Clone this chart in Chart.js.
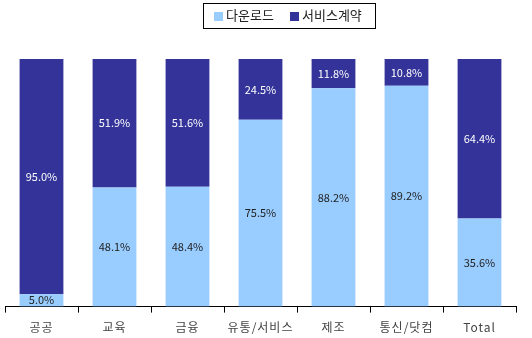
<!DOCTYPE html>
<html><head><meta charset="utf-8">
<script src="https://cdn.jsdelivr.net/npm/chart.js@4/dist/chart.umd.min.js"></script>
<style>html,body{margin:0;padding:0;background:#fff}#w{width:532px;height:338px}</style>
</head><body><div id="w"><canvas id="c"></canvas></div>
<script>
const categories = ['공공','교육','금융','유통/서비스','제조','통신/닷컴','Total'];
const download = [5.0, 48.1, 48.4, 75.5, 88.2, 89.2, 35.6];
const service = [95.0, 51.9, 51.6, 24.5, 11.8, 10.8, 64.4];
const seriesNames = ['다운로드','서비스계약'];
const colors = ['#99CCFF','#333399'];
const FONT = '"Noto Sans CJK KR", "DejaVu Sans", sans-serif';

const labelPlugin = {
  id: 'labels',
  beforeDraw(chart) {
    chart.ctx.letterSpacing = '1px';
  },
  afterDatasetsDraw(chart) {
    const ctx = chart.ctx;
    ctx.save();
    ctx.letterSpacing = '0px';
    ctx.font = '11px ' + FONT;
    ctx.textAlign = 'center';
    ctx.textBaseline = 'middle';
    chart.data.datasets.forEach((ds, di) => {
      const meta = chart.getDatasetMeta(di);
      meta.data.forEach((bar, i) => {
        const v = ds.data[i];
        const y = (bar.y + bar.base) / 2;
        ctx.fillStyle = di === 0 ? '#222222' : '#ffffff';
        let yy = y;
        if (di === 0 && v < 8) yy = bar.base - 7;
        ctx.fillText(v.toFixed(1) + '%', bar.x, yy);
      });
    });
    ctx.restore();
  },
  afterDraw(chart) {
    const ctx = chart.ctx;
    ctx.save();
    ctx.letterSpacing = '0px';
    const bx = 203.5, by = 3.5, bw = 172, bh = 25;
    ctx.strokeStyle = '#000';
    ctx.lineWidth = 1;
    ctx.strokeRect(bx, by, bw, bh);
    ctx.font = '13px ' + FONT;
    ctx.textBaseline = 'middle';
    ctx.textAlign = 'left';
    const items = [{x: 214, tx: 226}, {x: 290, tx: 302}];
    chart.data.datasets.forEach((ds, i) => {
      ctx.fillStyle = ds.backgroundColor;
      ctx.fillRect(items[i].x, 12, 9, 9);
      ctx.fillStyle = '#222';
      ctx.fillText(ds.label, items[i].tx, 15);
    });
    ctx.restore();
  }
};

new Chart(document.getElementById('c'), {
  type: 'bar',
  data: {
    labels: categories,
    datasets: [
      {label: seriesNames[0], data: download, backgroundColor: colors[0]},
      {label: seriesNames[1], data: service, backgroundColor: colors[1]}
    ]
  },
  options: {
    responsive: true,
    maintainAspectRatio: false,
    animation: false,
    layout: {padding: {top: 59, left: 5, right: 16, bottom: -5}},
    datasets: {bar: {categoryPercentage: 1.0, barPercentage: 0.6}},
    plugins: {legend: {display: false}, tooltip: {enabled: false}},
    scales: {
      x: {
        stacked: true,
        grid: {display: true, offset: true, drawOnChartArea: false, drawTicks: true, tickLength: 6, color: '#000'},
        border: {display: true, color: '#000', width: 1},
        ticks: {color: '#444', font: {family: FONT, size: 12}, padding: 8, maxRotation: 0, autoSkip: false}
      },
      y: {stacked: true, display: false, min: 0, max: 100}
    }
  },
  plugins: [labelPlugin]
});
</script>
</body></html>
